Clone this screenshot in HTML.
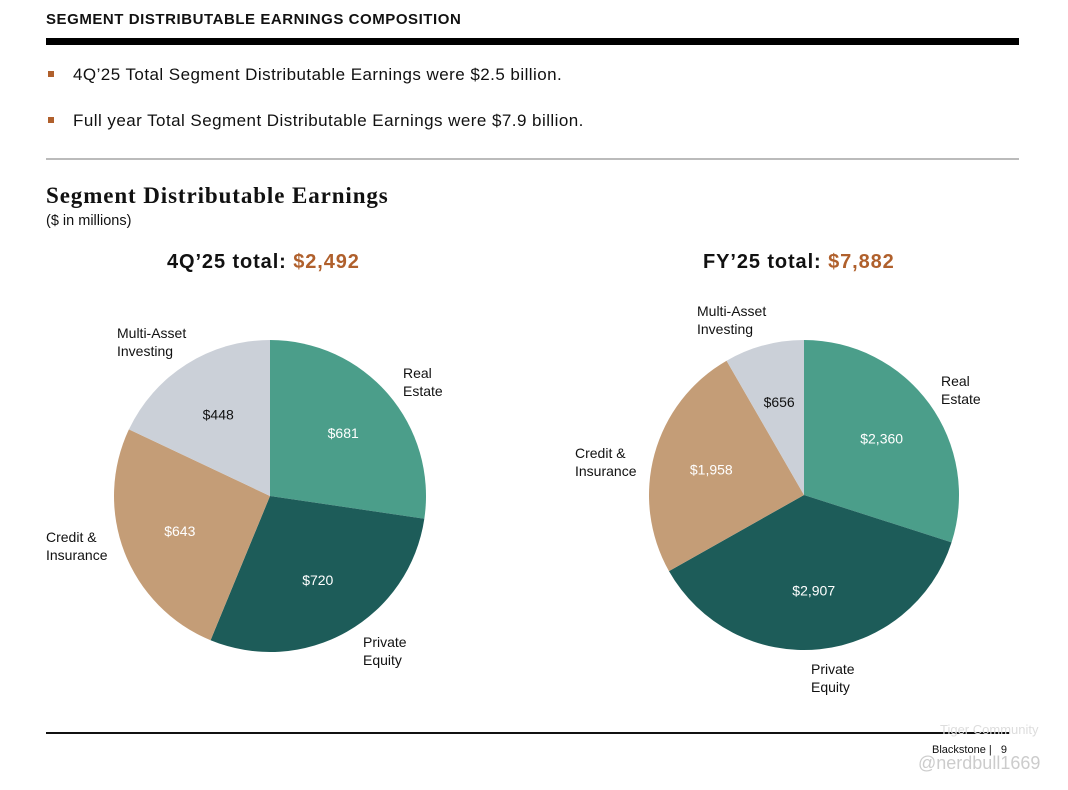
<!DOCTYPE html>
<html><head><meta charset="utf-8">
<style>
body{margin:0;width:1068px;height:790px;background:#fff;font-family:"Liberation Sans","DejaVu Sans",sans-serif;color:#111;position:relative;overflow:hidden}
.abs{position:absolute}
.title{left:46px;top:11px;font-size:15px;font-weight:bold;letter-spacing:0.55px}
.bar{left:46px;top:38px;width:973px;height:7px;background:#000}
.bul{left:73px;font-size:17px;letter-spacing:0.45px}
.sq{position:absolute;left:-25px;top:6px;width:6px;height:6px;background:#b0602c}
.hr{left:46px;top:158px;width:973px;height:2px;background:#bbb}
.h2{left:46px;top:183px;font-family:"Liberation Serif",serif;font-weight:bold;font-size:23px;letter-spacing:0.9px}
.sub{left:46px;top:213px;font-size:14.5px}
.ptitle{font-size:20px;font-weight:bold;top:251px;letter-spacing:0.9px}
.ptitle span{color:#b0602c}
.foot{left:46px;top:732px;width:964px;height:2px;background:#111}
</style></head><body>
<div class="abs title">SEGMENT DISTRIBUTABLE EARNINGS COMPOSITION</div>
<div class="abs bar"></div>
<div class="abs bul" style="top:65px"><i class="sq"></i>4Q’25 Total Segment Distributable Earnings were $2.5 billion.</div>
<div class="abs bul" style="top:111px"><i class="sq"></i>Full year Total Segment Distributable Earnings were $7.9 billion.</div>
<div class="abs hr"></div>
<div class="abs h2">Segment Distributable Earnings</div>
<div class="abs sub">($ in millions)</div>
<div class="abs ptitle" style="left:167px">4Q’25 total: <span>$2,492</span></div>
<div class="abs ptitle" style="left:703px">FY’25 total: <span>$7,882</span></div>
<svg class="abs" style="left:0;top:0" width="1068" height="790" id="svg"></svg>
<div class="abs foot"></div>
<div class="abs" style="left:932px;top:744px;font-size:11px">Blackstone |&nbsp;&nbsp;&nbsp;9</div>
<div class="abs" style="left:918px;top:753px;font-size:18px;color:#ccc">@nerdbull1669</div>
<div class="abs" style="left:940px;top:722px;font-size:13px;color:#ddd">Tiger Community</div>
<script>
const categories=["Real Estate","Private Equity","Credit & Insurance","Multi-Asset Investing"];
const q4Values=[681,720,643,448];
const fyValues=[2360,2907,1958,656];
const q4Labels=["$681","$720","$643","$448"];
const fyLabels=["$2,360","$2,907","$1,958","$656"];
const colors=["#4b9e8a","#1d5c59","#c49d77","#cbd0d8"];
const textColors=["#fff","#fff","#fff","#111"];
const svg=document.getElementById('svg');
const NS="http://www.w3.org/2000/svg";
function pie(cx,cy,r,vals,labels,name){
  const tot=vals.reduce((a,b)=>a+b,0);let a0=0;
  vals.forEach((v,i)=>{
    const a1=a0+v/tot*2*Math.PI;
    const p=(a)=>[cx+r*Math.sin(a),cy-r*Math.cos(a)];
    const [x0,y0]=p(a0),[x1,y1]=p(a1);
    const path=document.createElementNS(NS,'path');
    path.setAttribute('d',`M${cx},${cy}L${x0},${y0}A${r},${r} 0 ${a1-a0>Math.PI?1:0} 1 ${x1},${y1}Z`);
    path.setAttribute('fill',colors[i]);
    
    
    svg.appendChild(path);
    const am=(a0+a1)/2,lr=r*0.62;
    const t=document.createElementNS(NS,'text');
    t.setAttribute('x',cx+lr*Math.sin(am));t.setAttribute('y',cy-lr*Math.cos(am)+5);
    t.setAttribute('text-anchor','middle');t.setAttribute('font-size','14');
    t.setAttribute('fill',textColors[i]);
    t.setAttribute('font-family','Liberation Sans, sans-serif');
    t.textContent=labels[i];
    
    
    svg.appendChild(t);
    a0=a1;
  });
}
pie(270,496,156,q4Values,q4Labels,'pie-4q');
pie(804,495,155,fyValues,fyLabels,'pie-fy');
const outer=[
 [403,378,"Real","Estate"],[363,647,"Private","Equity"],[46,542,"Credit &","Insurance"],[117,338,"Multi-Asset","Investing"],
 [941,386,"Real","Estate"],[811,674,"Private","Equity"],[575,458,"Credit &","Insurance"],[697,316,"Multi-Asset","Investing"]];
outer.forEach((o,i)=>{
  const t=document.createElementNS(NS,'text');
  t.setAttribute('font-size','14');t.setAttribute('fill','#111');
  t.setAttribute('font-family','Liberation Sans, sans-serif');
  t.innerHTML=`<tspan x="${o[0]}" y="${o[1]}">${o[2]}</tspan><tspan x="${o[0]}" y="${o[1]+18}">${o[3]}</tspan>`;
  
  
  svg.appendChild(t);
});
</script>
</body></html>
